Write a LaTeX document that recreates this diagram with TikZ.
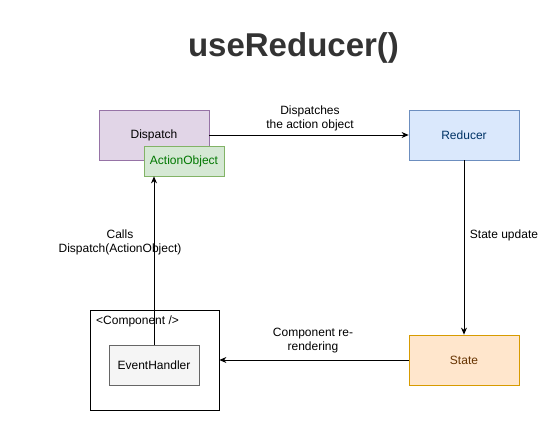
\documentclass[tikz,border=0pt]{standalone}
\usepackage{fontspec}
\setmainfont{Liberation Sans}
\usetikzlibrary{arrows.meta}
\definecolor{dispfill}{HTML}{E1D5E7}
\definecolor{displine}{HTML}{9673A6}
\definecolor{actfill}{HTML}{D5E8D4}
\definecolor{actline}{HTML}{82B366}
\definecolor{acttext}{HTML}{007700}
\definecolor{redfill}{HTML}{DAE8FC}
\definecolor{redline}{HTML}{6C8EBF}
\definecolor{redtext}{HTML}{003366}
\definecolor{stfill}{HTML}{FFE6CC}
\definecolor{stline}{HTML}{D79B00}
\definecolor{sttext}{HTML}{663300}
\definecolor{evfill}{HTML}{F5F5F5}
\definecolor{evline}{HTML}{666666}
\definecolor{titlegray}{HTML}{333333}
\tikzset{
  box/.style={draw, line width=0.8pt, inner sep=0pt, minimum width=110pt, minimum height=50pt, font=\fontsize{12}{14}\selectfont},
  lbl/.style={align=center, inner sep=0pt, font=\fontsize{12}{14}\selectfont},
  flow/.style={-{Stealth[length=7pt,width=6pt]}, line width=0.8pt}
}
\begin{document}
\begin{tikzpicture}[x=1pt,y=-1pt]
\useasboundingbox (0,0) rectangle (550,422);
\node[anchor=base, text=titlegray, font=\fontsize{33}{36}\selectfont\bfseries] (title) at (293.5,57) {useReducer()};
% boxes
\node[box, fill=dispfill, draw=displine] (disp) at (154,135) {Dispatch};
\node[box, fill=actfill, draw=actline, text=acttext, minimum width=80pt, minimum height=30pt] (act) at (184,161) {ActionObject};
\node[box, fill=redfill, draw=redline, text=redtext] (red) at (464,135) {Reducer};
\node[box, fill=stfill, draw=stline, text=sttext] (st) at (464,360) {State};
\node[draw, line width=0.8pt, minimum width=129pt, minimum height=100pt, inner sep=0pt] (comp) at (154.5,360) {};
\node[lbl, anchor=north west] (complbl) at (96,316) {<Component />};
\node[box, fill=evfill, draw=evline, minimum width=90pt, minimum height=40pt] (evh) at (154,365) {EventHandler};
% connectors
\draw[flow] (disp.east) -- (red.west);
\node[lbl] (dlbl) at (310,118) {Dispatches\\the action object};
\draw[flow] (red.south) -- (st.north);
\node[lbl] (ulbl) at (504,235) {State update};
\draw[flow] (st.west) -- (comp.east);
\node[lbl] (rlbl) at (313,341) {Component re-\\rendering};
\draw[flow] (evh.north) -- (evh.north |- act.south);
\node[lbl] (clbl) at (120,242) {Calls\\Dispatch(ActionObject)};
\end{tikzpicture}
\end{document}
